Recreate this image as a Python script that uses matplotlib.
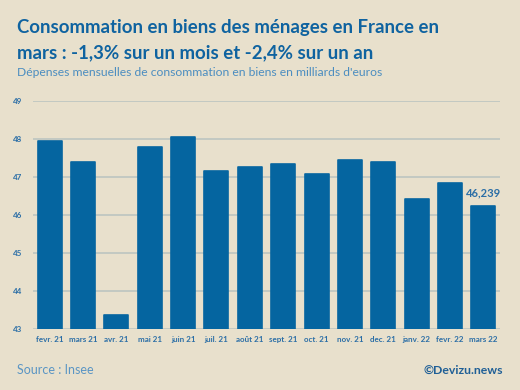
import matplotlib.pyplot as plt

mois = ["fevr. 21", "mars 21", "avr. 21", "mai 21", "juin 21", "juil. 21", "août 21",
        "sept. 21", "oct. 21", "nov. 21", "dec. 21", "janv. 22", "fevr. 22", "mars 22"]
depenses = [47.95, 47.39, 43.37, 47.79, 48.04, 47.15, 47.26,
            47.34, 47.06, 47.43, 47.40, 46.42, 46.84, 46.239]
yticks = [43, 44, 45, 46, 47, 48, 49]

bg = "#E8E0CC"
bleu = "#0565A0"
bleu_txt = "#2B6EA6"

plt.rcParams["font.family"] = "Lato"

fig = plt.figure(figsize=(5.2, 3.9), dpi=100, facecolor=bg)
ax = fig.add_axes([33 / 520, 1 - 328.7 / 390, 467 / 520, 228 / 390], facecolor=bg)

x = range(len(mois))
ax.bar(x, depenses, width=0.72, bottom=0, color=bleu, edgecolor=bleu,
       linewidth=1.2, joinstyle="round", zorder=3)
ax.set_ylim(43, 49)
ax.set_xlim(-0.5, len(mois) - 0.5)
ax.set_yticks(yticks)
ax.set_xticks(list(x))
ax.set_xticklabels(mois)
ax.grid(axis="y", color="#BCC5C0", linewidth=1.2, zorder=0)
for s in ax.spines.values():
    s.set_visible(False)
ax.tick_params(length=0, labelsize=5.8, labelcolor=bleu_txt, pad=5)
ax.tick_params(axis="y", pad=8)
for lab in ax.get_xticklabels() + ax.get_yticklabels():
    lab.set_fontweight("bold")

ax.annotate("46,239", (13, depenses[-1]), xytext=(0, 5), textcoords="offset points",
            ha="center", va="bottom", fontsize=8, fontweight="bold", color=bleu_txt)

fig.text(17 / 520, 1 - 27 / 390, "Consommation en biens des ménages en France en",
         fontsize=13.4, fontweight="bold", color="#0F63A0", va="center")
fig.text(17 / 520, 1 - 53 / 390, "mars : -1,3% sur un mois et -2,4% sur un an",
         fontsize=13.4, fontweight="bold", color="#0F63A0", va="center")
fig.text(17 / 520, 1 - 73 / 390,
         "Dépenses mensuelles de consommation en biens en milliards d'euros",
         fontsize=8.7, color="#4B8DC0", va="center")
fig.text(17 / 520, 1 - 370 / 390, "Source : Insee", fontsize=9, color="#5A95C4", va="center")
fig.text(503 / 520, 1 - 370 / 390, "©Devizu.news", fontsize=8.8, fontweight="bold",
         color="#1F5F96", va="center", ha="right")

fig.savefig("out.png", dpi=100, facecolor=bg)
